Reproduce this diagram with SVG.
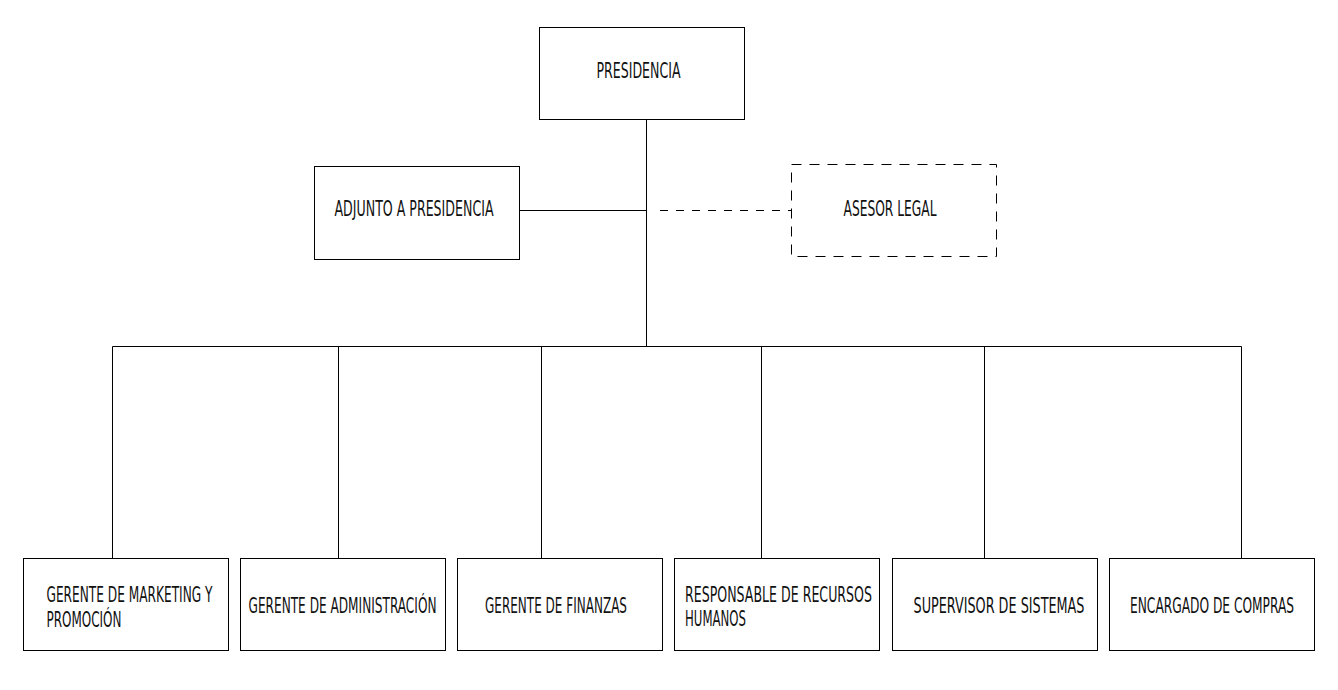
<svg xmlns="http://www.w3.org/2000/svg" width="1338" height="690" viewBox="0 0 1338 690">
<style>
.box{fill:#fff;stroke:#000;stroke-width:1}
.dbox{fill:#fff;stroke:#000;stroke-width:1;stroke-dasharray:10 8}
.ln{fill:none;stroke:#000;stroke-width:1}
.dln{fill:none;stroke:#000;stroke-width:1;stroke-dasharray:8 8}
text{font-family:"Liberation Sans Narrow","DejaVu Sans Condensed","Liberation Sans",sans-serif;font-size:21px;fill:#111}
</style>
<rect width="1338" height="690" fill="#fff"/>
<g id="connectors">
<path class="ln" d="M646.5 119.5V346.5M519.5 210.5H646.5M112.5 346.5H1241.5M112.5 346.5V558.5M338.5 346.5V558.5M541.5 346.5V558.5M761.5 346.5V558.5M984.5 346.5V558.5M1241.5 346.5V558.5"/>
<path class="dln" d="M652 210.5H791.5" stroke-dashoffset="8"/>
</g>
<g id="presidencia">
<rect class="box" x="539.5" y="27.5" width="205" height="92"/>
<text x="596.5" y="77.5" textLength="84" lengthAdjust="spacingAndGlyphs">PRESIDENCIA</text>
</g>
<g id="adjunto">
<rect class="box" x="314.5" y="166.5" width="205" height="93"/>
<text x="334.5" y="216" textLength="159" lengthAdjust="spacingAndGlyphs">ADJUNTO A PRESIDENCIA</text>
</g>
<g id="asesor">
<rect class="dbox" x="791.5" y="164.5" width="205" height="92"/>
<text x="843.5" y="216" textLength="93" lengthAdjust="spacingAndGlyphs">ASESOR LEGAL</text>
</g>
<g id="marketing">
<rect class="box" x="23.5" y="558.5" width="205" height="92"/>
<text x="46.5" y="602" textLength="166" lengthAdjust="spacingAndGlyphs">GERENTE DE MARKETING Y</text>
<text x="46.5" y="627" textLength="75" lengthAdjust="spacingAndGlyphs">PROMOCIÓN</text>
</g>
<g id="administracion">
<rect class="box" x="240.5" y="558.5" width="205" height="92"/>
<text x="248.5" y="613" textLength="188" lengthAdjust="spacingAndGlyphs">GERENTE DE ADMINISTRACIÓN</text>
</g>
<g id="finanzas">
<rect class="box" x="457.5" y="558.5" width="205" height="92"/>
<text x="485" y="613" textLength="142" lengthAdjust="spacingAndGlyphs">GERENTE DE FINANZAS</text>
</g>
<g id="rrhh">
<rect class="box" x="674.5" y="558.5" width="205" height="92"/>
<text x="685" y="601.5" textLength="187" lengthAdjust="spacingAndGlyphs">RESPONSABLE DE RECURSOS</text>
<text x="685" y="626" textLength="61" lengthAdjust="spacingAndGlyphs">HUMANOS</text>
</g>
<g id="sistemas">
<rect class="box" x="892.5" y="558.5" width="205" height="92"/>
<text x="913.5" y="613" textLength="171" lengthAdjust="spacingAndGlyphs">SUPERVISOR DE SISTEMAS</text>
</g>
<g id="compras">
<rect class="box" x="1109.5" y="558.5" width="205" height="92"/>
<text x="1130" y="613" textLength="164" lengthAdjust="spacingAndGlyphs">ENCARGADO DE COMPRAS</text>
</g>
</svg>
